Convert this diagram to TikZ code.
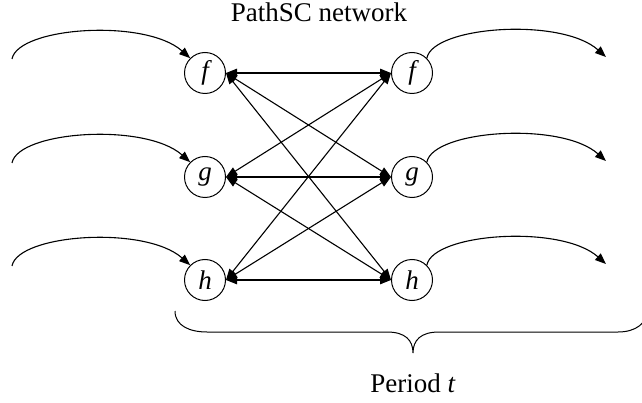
\documentclass[tikz,border=0pt]{standalone}
\usepackage{fontspec}
\setmainfont{Liberation Serif}
\usetikzlibrary{arrows.meta}
\begin{document}
\begin{tikzpicture}[x=1pt,y=-1pt,
  line width=1.1pt,
  tip/.style={-{Triangle[length=11pt,width=8.5pt]}},
  both/.style={{Triangle[length=11pt,width=8.5pt]}-{Triangle[length=11pt,width=8.5pt]}},
  prod/.style={circle,draw,line width=1pt,minimum size=41pt,inner sep=0pt,
    font=\fontsize{27}{30}\selectfont\itshape},
  lbl/.style={font=\fontsize{27}{32}\selectfont,inner sep=0pt}]
\useasboundingbox (0,0) rectangle (642,403);

% title and period label
\node[lbl] (title) at (319,12) {PathSC network};
\node[lbl] (period) at (413,383) {Period \textit{t}};

% product nodes of the two stages
\node[prod] (lf) at (205,73) {f};
\node[prod] (lg) at (205,177) {g};
\node[prod] (lh) at (205,280) {h};
\node[prod] (rf) at (412,73) {f};
\node[prod] (rg) at (412,177) {g};
\node[prod] (rh) at (412,280) {h};

% complete bipartite links, double headed
\foreach \a in {lf,lg,lh}
  \foreach \b in {rf,rg,rh}
    \draw[both] (\a.east) -- (\b.west);

% incoming flows on the left
\foreach \n/\y in {lf/59,lg/163,lh/266}{
  \coordinate (in\n) at (12,\y);
  \draw[tip] (in\n) .. controls ++(6,-32) and ++(-45,-40) .. (\n.135);
}
% outgoing flows on the right
\foreach \n/\y in {rf/57,rg/161,rh/264}{
  \coordinate (out\n) at (606,\y);
  \draw[tip] (\n.45) .. controls ++(6,-32) and ++(-45,-40) .. (out\n);
}

% brace spanning the period
\coordinate (bl) at (175,311);
\coordinate (bm) at (413,353);
\coordinate (br) at (648,307);
\draw[line width=1pt] (bl) .. controls (175,326) and (190,332) .. (207,332)
  -- (387,332) .. controls (405,332) and (413,340) .. (bm)
  .. controls (413,340) and (421,332) .. (439,332)
  -- (618,332) .. controls (635,332) and (648,324) .. (br);
\end{tikzpicture}
\end{document}
